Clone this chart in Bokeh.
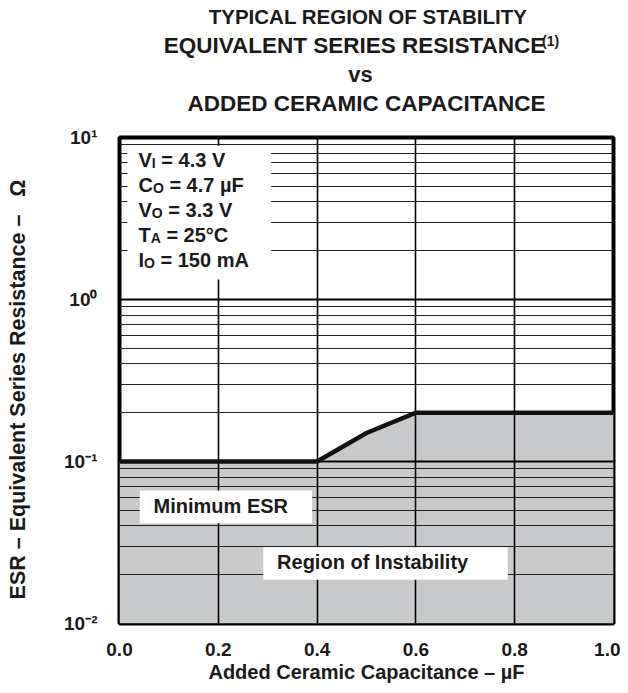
from bokeh.plotting import figure
from bokeh.layouts import column
from bokeh.models import FixedTicker, ColumnDataSource, Range1d, NumeralTickFormatter
from bokeh.core.properties import value
from bokeh.embed import file_html
from bokeh.resources import INLINE

FONT = "Liberation Sans"
INK = "#1a1a1a"

# ---------------- data ----------------
capacitance_uF = [0.0, 0.4, 0.5, 0.6, 1.0]
min_esr_ohm = [0.1, 0.1, 0.15, 0.2, 0.2]

x_ticks = [0.0, 0.2, 0.4, 0.6, 0.8, 1.0]
y_major = [0.01, 0.1, 1.0, 10.0]
y_tick_labels = ["10\u207b\u00b2", "10\u207b\u00b9", "10\u2070", "10\u00b9"]
y_minor = [0.02, 0.03, 0.04, 0.05, 0.06, 0.07, 0.08, 0.09,
           0.2, 0.3, 0.4, 0.5, 0.6, 0.7, 0.8, 0.9,
           2.0, 3.0, 4.0, 5.0, 6.0, 7.0, 8.0, 9.0]

cond_sym = ["V", "C", "V", "T", "I"]
cond_sub = ["I", "O", "O", "A", "O"]
cond_val = ["\u00a0= 4.3 V", "\u00a0= 4.7 \u00b5F", "\u00a0= 3.3 V", "\u00a0= 25\u00b0C", "\u00a0= 150 mA"]

title_lines = ["TYPICAL REGION OF STABILITY", "EQUIVALENT SERIES RESISTANCE", "vs",
               "ADDED CERAMIC CAPACITANCE"]
title_note = "(1)"
x_label = "Added Ceramic Capacitance \u2013 \u00b5F"
y_label = "ESR \u2013 Equivalent Series Resistance \u2013\u00a0\u00a0\u00a0\u03a9\u00a0\u00a0\u00a0"

# white label boxes (data units)
cond_box = (0.016, 0.307, 1.33, 8.9)
region_names = ["Minimum ESR", "Region of Instability"]
region_x0 = [0.041, 0.291]
region_x1 = [0.39, 0.786]
region_y0 = [0.0416, 0.0186]
region_y1 = [0.0662, 0.0296]
region_tx = [0.069, 0.319]
region_ty = [0.0487, 0.0221]

# ---------------- layout sizes ----------------
W = 620
L_B, R_B = 119, 7
TH = 120                       # title block height
MAIN_H = 570                   # main chart height
TOP_B = 137 - TH               # frame top at page y=137
BOT_B = MAIN_H - (623 - TH)    # frame bottom at page y=623

# ---------------- title block ----------------
t = figure(width=W, height=TH, x_range=Range1d(0, 1), y_range=Range1d(0, TH),
           output_backend="svg", toolbar_location=None,
           x_axis_location=None, y_axis_location=None,
           min_border_left=L_B, min_border_right=R_B, min_border_top=0, min_border_bottom=0)
t.grid.visible = False
t.outline_line_color = None
t.background_fill_color = "white"
t.border_fill_color = "white"
t_center_px = [1.5, -12, -6, 0]
t_base = [TH - 16.3, TH - 45.3, TH - 73.8, TH - 102.8]
t_size = ["20.5px", "22.5px", "22px", "22.5px"]
tsrc = ColumnDataSource(dict(x=[0.5] * 4, y=t_base, t=title_lines, xo=t_center_px, fs=t_size))
t.text(x="x", y="y", text="t", x_offset="xo", source=tsrc, text_font=value(FONT),
       text_font_style="bold", text_font_size="fs", text_color=INK,
       text_align="center", text_baseline="alphabetic")
TW = {"E": 667, "Q": 778, "U": 722, "I": 278, "V": 667, "A": 722, "L": 611, "N": 722,
      "T": 611, " ": 278, "S": 667, "R": 722, "C": 722}
line2_w = sum(TW[c] for c in title_lines[1]) * 22.5 / 1000
t.text(x=[0.5], y=[t_base[1] + 5], text=[title_note], x_offset=t_center_px[1] + line2_w / 2 - 5,
       text_font=value(FONT), text_font_style="bold", text_font_size=value("14px"),
       text_color=INK, text_align="left", text_baseline="alphabetic")

# ---------------- main chart ----------------
p = figure(width=W, height=MAIN_H, x_range=Range1d(0, 1),
           y_range=Range1d(y_major[0], y_major[-1]),
           y_axis_type="log", output_backend="svg", toolbar_location=None,
           min_border_left=L_B, min_border_right=R_B, min_border_top=TOP_B,
           min_border_bottom=BOT_B)
p.background_fill_color = "white"
p.border_fill_color = "white"
p.outline_line_color = "black"
p.outline_line_width = 4

# grids
p.xgrid.ticker = FixedTicker(ticks=x_ticks)
p.xgrid.grid_line_color = "black"
p.xgrid.grid_line_width = 1.6
p.ygrid.ticker = FixedTicker(ticks=y_major, minor_ticks=y_minor)
p.ygrid.grid_line_color = "black"
p.ygrid.grid_line_width = 2
p.ygrid.minor_grid_line_color = "#222222"
p.ygrid.minor_grid_line_width = 1

# axes
for ax in (p.xaxis, p.yaxis):
    ax.major_tick_out = 0
    ax.major_tick_in = 0
    ax.minor_tick_out = 0
    ax.minor_tick_in = 0
    ax.axis_line_color = None
    ax.major_label_text_font = FONT
    ax.major_label_text_font_style = "bold"
    ax.major_label_text_font_size = "19px"
    ax.major_label_text_color = INK
    ax.axis_label_text_font = FONT
    ax.axis_label_text_font_style = "bold"
    ax.axis_label_text_font_size = "20px"
    ax.axis_label_text_color = INK

p.xaxis.ticker = FixedTicker(ticks=x_ticks)
p.xaxis.formatter = NumeralTickFormatter(format="0.0")
p.xaxis.major_label_standoff = 19
p.xaxis.axis_label = x_label
p.xaxis.axis_label_standoff = 2

p.yaxis.ticker = FixedTicker(ticks=y_major)
p.yaxis.major_label_overrides = {v: s for v, s in zip(y_major, y_tick_labels)}
p.yaxis.major_label_standoff = 22
p.yaxis.axis_label = y_label
p.yaxis.axis_label_text_font_size = "21.5px"
p.yaxis.axis_label_standoff = 31

# region of instability (drawn under the grid)
fill = p.varea(x=capacitance_uF, y1=[y_major[0]] * len(capacitance_uF), y2=min_esr_ohm,
               fill_color="#c8c9cb")
fill.level = "image"

# minimum ESR boundary
p.line(capacitance_uF, min_esr_ohm, line_color="#111111", line_width=4.5, line_join="miter")

# white boxes + labels
p.quad(left=[cond_box[0]], right=[cond_box[1]], bottom=[cond_box[2]], top=[cond_box[3]],
       fill_color="white", line_color=None)
p.quad(left=region_x0, right=region_x1, bottom=region_y0, top=region_y1,
       fill_color="white", line_color=None)
p.text(x=region_tx, y=region_ty, text=region_names, y_offset=-6, text_font=value(FONT),
       text_font_style="bold", text_font_size=value("20px"), text_color=INK,
       text_baseline="alphabetic", text_align="left")

# operating conditions (symbol + subscript + value)
AW = {"V": 667, "C": 722, "T": 611, "I": 278, "O": 778, "A": 722}
MAIN, SUB = 20, 14
x0_px = 19
n = len(cond_sym)
row_px = [22 + 25 * i for i in range(n)]
sym_src = ColumnDataSource(dict(x=[x_ticks[0]] * n, y=[y_major[-1]] * n, t=cond_sym,
                                xo=[x0_px] * n, yo=row_px))
sub_src = ColumnDataSource(dict(x=[x_ticks[0]] * n, y=[y_major[-1]] * n, t=cond_sub,
                                xo=[x0_px + AW[s] * MAIN / 1000 for s in cond_sym],
                                yo=[r + 3 for r in row_px]))
val_src = ColumnDataSource(dict(x=[x_ticks[0]] * n, y=[y_major[-1]] * n, t=cond_val,
                                xo=[x0_px + AW[s] * MAIN / 1000 + AW[b] * SUB / 1000
                                    for s, b in zip(cond_sym, cond_sub)],
                                yo=row_px))
for src, size in ((sym_src, MAIN), (sub_src, SUB), (val_src, MAIN)):
    p.text(x="x", y="y", text="t", x_offset="xo", y_offset="yo", source=src,
           text_font=value(FONT), text_font_style="bold", text_font_size=value(f"{size}px"),
           text_color=INK, text_baseline="alphabetic", text_align="left")

layout = column(t, p, spacing=0)
open("out.html", "w").write(file_html(layout, INLINE))
